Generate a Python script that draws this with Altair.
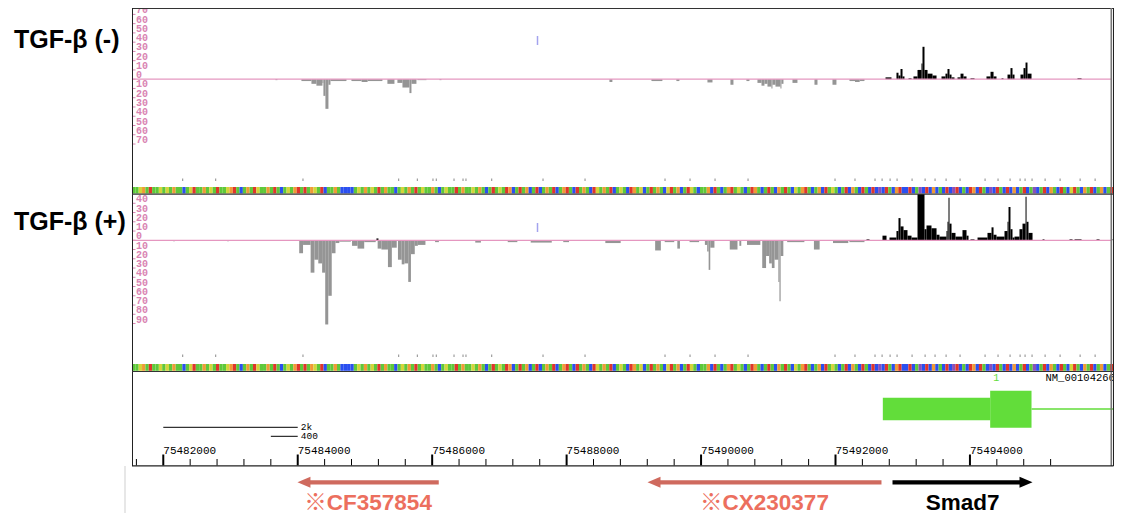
import altair as alt
import pandas as pd

# ---------------- data (genomic coordinates, bp) ----------------
X_DOMAIN = [75479690, 75496143]

# coverage segments: (start, end, depth)
T1_POS = [
    (75492744, 75492833, 2), (75492907, 75492937, 7), (75492937, 75492967, 4),
    (75492967, 75492997, 11), (75492997, 75493026, 3), (75493086, 75493131, 1),
    (75493160, 75493220, 3), (75493220, 75493279, 10), (75493279, 75493294, 17),
    (75493294, 75493324, 35), (75493324, 75493369, 10), (75493369, 75493443, 6),
    (75493443, 75493503, 4), (75493577, 75493636, 3), (75493636, 75493666, 6),
    (75493666, 75493696, 11), (75493696, 75493726, 5), (75493726, 75493770, 2),
    (75493815, 75493860, 2), (75493860, 75493904, 6), (75493904, 75493949, 3),
    (75494008, 75494068, 1), (75494246, 75494306, 3), (75494306, 75494351, 8),
    (75494351, 75494395, 3), (75494470, 75494499, 1), (75494559, 75494603, 5),
    (75494603, 75494633, 12), (75494633, 75494663, 5), (75494752, 75494797, 5),
    (75494797, 75494827, 12), (75494827, 75494856, 18), (75494856, 75494916, 6),
    (75495600, 75495660, 1),
]
T1_NEG = [
    (75483668, 75483698, 1), (75484055, 75484204, 2), (75484204, 75484278, 5),
    (75484278, 75484368, 7), (75484368, 75484382, 4), (75484382, 75484412, 18),
    (75484412, 75484457, 32), (75484457, 75484487, 6), (75484487, 75484725, 2),
    (75484799, 75484950, 2), (75484950, 75485040, 3), (75485040, 75485260, 2),
    (75485334, 75485439, 5), (75485483, 75485558, 4), (75485558, 75485662, 9),
    (75485662, 75485692, 15), (75485692, 75485766, 5), (75485781, 75485915, 1),
    (75486108, 75486138, 1), (75488637, 75488681, 3), (75489262, 75489425, 2),
    (75489633, 75489678, 2), (75490095, 75490170, 3.5), (75490437, 75490482, 6),
    (75490675, 75490720, 2), (75490839, 75490899, 4), (75490899, 75490943, 7),
    (75490943, 75490988, 5), (75490988, 75491047, 8), (75491047, 75491062, 10),
    (75491062, 75491107, 6), (75491107, 75491181, 8), (75491181, 75491196, 10),
    (75491196, 75491226, 5), (75491360, 75491434, 4), (75491687, 75491732, 6),
    (75491955, 75492014, 6), (75492208, 75492290, 2), (75492290, 75492360, 3),
    (75492360, 75492431, 2),
]
T2_POS = [
    (75485171, 75485201, 2), (75492461, 75492506, 1), (75492699, 75492759, 5),
    (75492803, 75492907, 3), (75492907, 75492937, 10), (75492937, 75492967, 24),
    (75492967, 75493012, 15), (75493012, 75493071, 11), (75493071, 75493131, 5),
    (75493131, 75493220, 3), (75493220, 75493324, 50), (75493324, 75493354, 12),
    (75493354, 75493428, 16), (75493428, 75493503, 13), (75493503, 75493547, 6),
    (75493547, 75493651, 4), (75493651, 75493666, 10), (75493666, 75493681, 20),
    (75493681, 75493696, 46), (75493696, 75493726, 18), (75493726, 75493785, 8),
    (75493785, 75493889, 4), (75493889, 75493949, 11), (75493949, 75493979, 5),
    (75494008, 75494068, 1), (75494113, 75494261, 3), (75494261, 75494321, 8),
    (75494321, 75494351, 14), (75494351, 75494395, 6), (75494395, 75494514, 4),
    (75494514, 75494559, 10), (75494559, 75494574, 20), (75494574, 75494603, 36),
    (75494603, 75494633, 12), (75494633, 75494663, 3), (75494663, 75494737, 4),
    (75494737, 75494782, 12), (75494782, 75494827, 18), (75494827, 75494842, 47),
    (75494842, 75494871, 20), (75494871, 75494931, 8), (75495080, 75495109, 1),
    (75495481, 75495526, 1), (75495556, 75495660, 1), (75495883, 75495928, 1),
    (75496121, 75496151, 1),
]
T2_NEG = [
    (75482144, 75482174, 1), (75482948, 75482978, 1), (75484022, 75484079, 14),
    (75484079, 75484192, 5), (75484192, 75484248, 35), (75484248, 75484306, 21),
    (75484306, 75484363, 25), (75484363, 75484409, 35), (75484409, 75484454, 91),
    (75484454, 75484506, 60), (75484506, 75484562, 14), (75484562, 75484619, 3),
    (75484619, 75484790, 1.5), (75484808, 75484890, 6), (75484890, 75484989, 9),
    (75484989, 75485160, 2), (75485189, 75485245, 9), (75485245, 75485342, 10),
    (75485342, 75485400, 29), (75485400, 75485473, 8), (75485491, 75485547, 21),
    (75485547, 75485587, 26), (75485587, 75485644, 25), (75485644, 75485684, 45),
    (75485684, 75485741, 15), (75485741, 75485787, 6), (75485787, 75485900, 5),
    (75486043, 75486100, 2), (75486641, 75486725, 2.5), (75487124, 75487267, 2),
    (75487466, 75487779, 2.5), (75487950, 75488036, 2), (75488576, 75488804, 3),
    (75489317, 75489402, 11), (75489459, 75489601, 2), (75489647, 75489686, 9),
    (75489829, 75489971, 2), (75490057, 75490091, 5), (75490091, 75490113, 12),
    (75490113, 75490137, 32), (75490137, 75490199, 8), (75490427, 75490542, 10),
    (75490570, 75490598, 6), (75490683, 75490882, 5), (75490910, 75490967, 30),
    (75490967, 75491013, 17), (75491013, 75491053, 25), (75491053, 75491093, 30),
    (75491093, 75491150, 21), (75491150, 75491166, 45), (75491166, 75491184, 66),
    (75491184, 75491224, 17), (75491281, 75491537, 2), (75491679, 75491764, 10),
    (75491963, 75492190, 3), (75492207, 75492431, 2),
]

T1_AXIS = [70, 60, 50, 40, 30, 20, 10, 0, -10, -20, -30, -40, -50, -60, -70]
T2_AXIS = [40, 30, 20, 10, 0, -10, -20, -30, -40, -50, -60, -70, -80, -90]

# sequence colour band (one letter per 50 bp)
BAND_START = 75481534
BAND_STEP = 50
BAND_SEQ = ("GGYOGRGGYG" "YGOGGBGYRG" "GOGYGRGGYO" "RGBGOGRYGG" "OGRGBGYGOR"
            "GRGOYGRBGG" "OGBBBBGYGO" "GYGRGOGGBG" "YGOGRGYGGO" "GBGYGGRGOG"
            "GYGOGBGRGY" "GROBGRGOBG" "RBGOGRBGOR" "GBRGOGBRYG" "OGRBGYGBRO"
            "GYBGRGOGBY" "RGOBGRYGBG" "GOBRGBGORG" "YGBGROGBGR" "GBOGRGBYGO"
            "RGBGOBRGYG" "BGRBOGBRGB" "RBPBRGBORB" "BRBGPBRBOB" "GBRBPRBGBR"
            "OBRGBPBRGB" "RBOBGRBGPB" "GRBOGBRGBY" "RGBOGRBGOB" "GRBG")
BAND_LETTERS = ["G", "Y", "O", "R", "B", "P"]
BAND_COLORS = ["#5ec83a", "#d4d43a", "#f09a36", "#e0352a", "#2a4ff0", "#8a50b8"]

SNP_POS = [75482289, 75482780, 75484078, 75485502, 75485779, 75486012, 75486061,
           75486325, 75486459, 75486503, 75486886, 75487649, 75488274, 75489464,
           75489836, 75490208, 75490699, 75491993, 75492290, 75492588, 75492693,
           75492812, 75492916, 75493139, 75493333, 75493481, 75493645, 75493853,
           75494225, 75494418, 75494597, 75494746, 75494820, 75494924, 75495118,
           75495341, 75495639, 75495862]
INS_POS = [75487567]

RULER_MAJOR = [75482000, 75484000, 75486000, 75488000, 75490000, 75492000, 75494000]
RULER_MINOR = [75481600, 75482400, 75482800, 75483200, 75483600, 75484400, 75484800,
               75485200, 75485600, 75486400, 75486800, 75487200, 75487600, 75488400,
               75488800, 75489200, 75489600, 75490400, 75490800, 75491200, 75491600,
               75492400, 75492800, 75493200, 75493600, 75494400, 75494800, 75495200]

SCALEBAR_LABELS = ["2k", "400"]
SCALEBAR_START = [75482000, 75483600]
SCALEBAR_END = [75484000, 75484000]

GENE_UTR = [75492704, 75494301]
GENE_CDS = [75494301, 75494916]
GENE_INTRON = [75494916, 75496210]

ARROW_NAMES = ["※CF357854", "※CX230377", "Smad7"]
ARROW_TAIL = [75486098, 75492684, 75492848]
ARROW_TIP = [75483996, 75489203, 75494931]
ARROW_DIR = ["left", "left", "right"]
ARROW_COLOR = ["#cf6a5e", "#cf6a5e", "#000000"]
ARROW_TEXT_COLOR = ["#ec6f5e", "#ec6f5e", "#000000"]

TITLES = ["TGF-β (-)", "TGF-β (+)"]

# ---------------- styling / layout ----------------
W, H = 1106, 505
MONO = "Liberation Mono"
SANS = "Liberation Sans, Noto Sans CJK JP"
PINK = "#d984b2"
PINK_LINE = "#e597c0"
GREEN = "#62dd3a"
RIGHT = 1105.5

xs = alt.Scale(domain=X_DOMAIN, nice=False, zero=False)
y1s = alt.Scale(domain=[-468.5, 76.9], nice=False, zero=False)
y2s = alt.Scale(domain=[-294.8, 251.1], nice=False, zero=False)


def X(f):
    return alt.X(f, type="quantitative", scale=xs, axis=None)


def one():
    return pd.DataFrame({"k": [0]})


def vline(x, ya, yb, color="#000000", w=1.0):
    return alt.Chart(one()).mark_rule(color=color, strokeWidth=w).encode(
        x=alt.value(x), y=alt.value(ya), y2=alt.value(yb))


def hline(y, xa, xb, color="#000000", w=1.0):
    return alt.Chart(one()).mark_rule(color=color, strokeWidth=w).encode(
        y=alt.value(y), x=alt.value(xa), x2=alt.value(xb))


def coverage(triples, sign, yscale, color):
    df = pd.DataFrame({"s": [t[0] for t in triples], "e": [t[1] for t in triples],
                       "v": [sign * t[2] for t in triples]})
    return alt.Chart(df).mark_rect(color=color, clip=True).encode(
        x=X("s"), x2="e", y=alt.Y("v:Q", scale=yscale, axis=None), y2=alt.datum(0))


def track_axis(ticks, yscale):
    df = pd.DataFrame({"v": ticks, "t": [str(abs(t)) for t in ticks]})
    base = alt.Chart(df)
    yy = alt.Y("v:Q", scale=yscale, axis=None)
    txt = base.mark_text(align="left", baseline="alphabetic", font=MONO, fontSize=10,
                         fontWeight="bold", color=PINK, clip=True, dy=-1).encode(
        x=alt.value(128), y=yy, text="t:N")
    tk = base.mark_rule(color=PINK, clip=True).encode(
        x=alt.value(124), x2=alt.value(127.5), y=yy)
    zero = base.transform_filter("datum.v == 0").mark_rule(
        color=PINK_LINE, strokeWidth=1.2).encode(x=alt.value(124), x2=alt.value(RIGHT - 2), y=yy)
    return [txt, tk], zero


layers = []

# colour bands
band_df = pd.DataFrame({
    "s": [BAND_START + i * BAND_STEP for i in range(len(BAND_SEQ))],
    "e": [BAND_START + (i + 1) * BAND_STEP for i in range(len(BAND_SEQ))],
    "b": list(BAND_SEQ),
})
band_color = alt.Color("b:N", scale=alt.Scale(domain=BAND_LETTERS, range=BAND_COLORS), legend=None)
for ya, yb in [(179, 185.5), (356, 362.8)]:
    layers.append(alt.Chart(band_df).mark_rect(clip=True).encode(
        x=X("s"), x2="e", y=alt.value(ya), y2=alt.value(yb), color=band_color))

# SNP ticks above bands
snp_df = pd.DataFrame({"p": SNP_POS})
for ya, yb in [(170.5, 173), (346.5, 349)]:
    layers.append(alt.Chart(snp_df).mark_rule(color="#8a8a8a", strokeWidth=1).encode(
        x=X("p"), y=alt.value(ya), y2=alt.value(yb)))

# insertion marks
ins_df = pd.DataFrame({"p": INS_POS})
for ya, yb in [(28, 37), (215, 224)]:
    layers.append(alt.Chart(ins_df).mark_rule(color="#a3a3ee", strokeWidth=1.5).encode(
        x=X("p"), y=alt.value(ya), y2=alt.value(yb)))

# coverage
layers.append(coverage(T1_NEG, -1, y1s, "#959595"))
layers.append(coverage(T1_POS, 1, y1s, "#000000"))
layers.append(coverage(T2_NEG, -1, y2s, "#959595"))
layers.append(coverage(T2_POS, 1, y2s, "#000000"))

a1, z1 = track_axis(T1_AXIS, y1s)
a2, z2 = track_axis(T2_AXIS, y2s)
layers += a1 + a2 + [z1, z2]

# gene model
layers.append(alt.Chart(pd.DataFrame({"s": [GENE_UTR[0]], "e": [GENE_UTR[1]]})).mark_rect(
    color=GREEN).encode(x=X("s"), x2="e", y=alt.value(389.7), y2=alt.value(412.3)))
layers.append(alt.Chart(pd.DataFrame({"s": [GENE_CDS[0]], "e": [GENE_CDS[1]]})).mark_rect(
    color=GREEN).encode(x=X("s"), x2="e", y=alt.value(382.7), y2=alt.value(419.7)))
layers.append(alt.Chart(pd.DataFrame({"s": [GENE_INTRON[0]], "e": [GENE_INTRON[1]]})).mark_rule(
    color=GREEN, strokeWidth=1.5, clip=True).encode(x=X("s"), x2="e", y=alt.value(401)))
layers.append(alt.Chart(pd.DataFrame({"p": [GENE_CDS[0]], "t": ["1"]})).mark_text(
    font=MONO, fontSize=10, color=GREEN, align="left", baseline="middle", dx=3).encode(
    x=X("p"), y=alt.value(370), text="t:N"))
layers.append(alt.Chart(pd.DataFrame({"p": [GENE_INTRON[0]], "t": ["NM_001042660"]})).mark_text(
    font=MONO, fontSize=10.5, color="#000000", align="left", baseline="middle", dx=14,
    clip=True).encode(x=X("p"), y=alt.value(370), text="t:N"))

# scale bars
sb = pd.DataFrame({"s": SCALEBAR_START, "e": SCALEBAR_END, "t": SCALEBAR_LABELS,
                   "yy": [419.3, 428.3]})
layers.append(alt.Chart(sb).mark_rule(color="#000000", strokeWidth=1).encode(
    x=X("s"), x2="e", y=alt.Y("yy:Q", scale=None)))
layers.append(alt.Chart(sb).mark_text(font=MONO, fontSize=9.5, align="left",
                                      baseline="middle", dx=3).encode(
    x=X("e"), y=alt.Y("yy:Q", scale=None), text="t:N"))

# ruler
maj = pd.DataFrame({"p": RULER_MAJOR, "t": [str(v) for v in RULER_MAJOR]})
layers.append(alt.Chart(maj).mark_rule(color="#000000", strokeWidth=2).encode(
    x=X("p"), y=alt.value(446.5), y2=alt.value(457.5)))
layers.append(alt.Chart(maj).mark_text(font=MONO, fontSize=11, align="left",
                                       baseline="middle", dx=0).encode(
    x=X("p"), y=alt.value(443), text="t:N"))
layers.append(alt.Chart(pd.DataFrame({"p": RULER_MINOR})).mark_rule(
    color="#000000", strokeWidth=1).encode(x=X("p"), y=alt.value(451), y2=alt.value(457.5)))

# frame
layers += [
    hline(0.5, 124, RIGHT, "#333333"),
    vline(124.5, 0, 458, "#222222"),
    vline(RIGHT - 2.2, 0, 458, "#777777", 1.6),
    vline(RIGHT, 0, 458, "#222222"),
    hline(186.2, 124, RIGHT, "#333333", 1.2),
    hline(363.5, 124, RIGHT, "#333333", 1.2),
    hline(457.8, 124, RIGHT, "#222222", 1.2),
    vline(117, 458, 505, "#cfcfcf"),
]

# bottom gene arrows
arr = pd.DataFrame({"name": ARROW_NAMES, "tail": ARROW_TAIL, "tip": ARROW_TIP,
                    "dir": ARROW_DIR, "col": ARROW_COLOR, "tcol": ARROW_TEXT_COLOR})
arr_b = alt.Chart(arr).transform_calculate(
    shaft_end="datum.dir == 'left' ? datum.tip + 140 : datum.tip - 140",
    mid="(datum.tail + datum.tip) / 2")
layers.append(arr_b.mark_rule(strokeWidth=4.3).encode(
    x=X("tail"), x2="shaft_end:Q", y=alt.value(474.3), color=alt.Color("col:N", scale=None)))
layers.append(arr_b.transform_filter("datum.dir == 'left'").mark_point(
    shape="M0,0L2,-0.85L2,0.85Z", filled=True, size=169, opacity=1, strokeWidth=0).encode(
    x=X("tip"), y=alt.value(474.3), color=alt.Color("col:N", scale=None)))
layers.append(arr_b.transform_filter("datum.dir == 'right'").mark_point(
    shape="M0,0L-2,-0.85L-2,0.85Z", filled=True, size=169, opacity=1, strokeWidth=0).encode(
    x=X("tip"), y=alt.value(474.3), color=alt.Color("col:N", scale=None)))
layers.append(arr_b.mark_text(font=SANS, fontSize=22.5, fontWeight="bold", align="center",
                              baseline="middle").encode(
    x=X("mid:Q"), y=alt.value(494.5), text="name:N", color=alt.Color("tcol:N", scale=None)))

# track titles
tt = pd.DataFrame({"t": TITLES, "yy": [32, 214]})
layers.append(alt.Chart(tt).mark_text(font=SANS, fontSize=25, fontWeight="bold",
                                      align="left", baseline="middle").encode(
    x=alt.value(6), y=alt.Y("yy:Q", scale=None), text="t:N"))

chart = alt.layer(*layers).resolve_scale(y="independent").properties(
    width=W, height=H, padding=0, autosize=alt.AutoSizeParams(type="none"),
    background="white",
).configure_view(stroke=None)

chart.save("out.html", embed_options={"renderer": "svg", "actions": False})
